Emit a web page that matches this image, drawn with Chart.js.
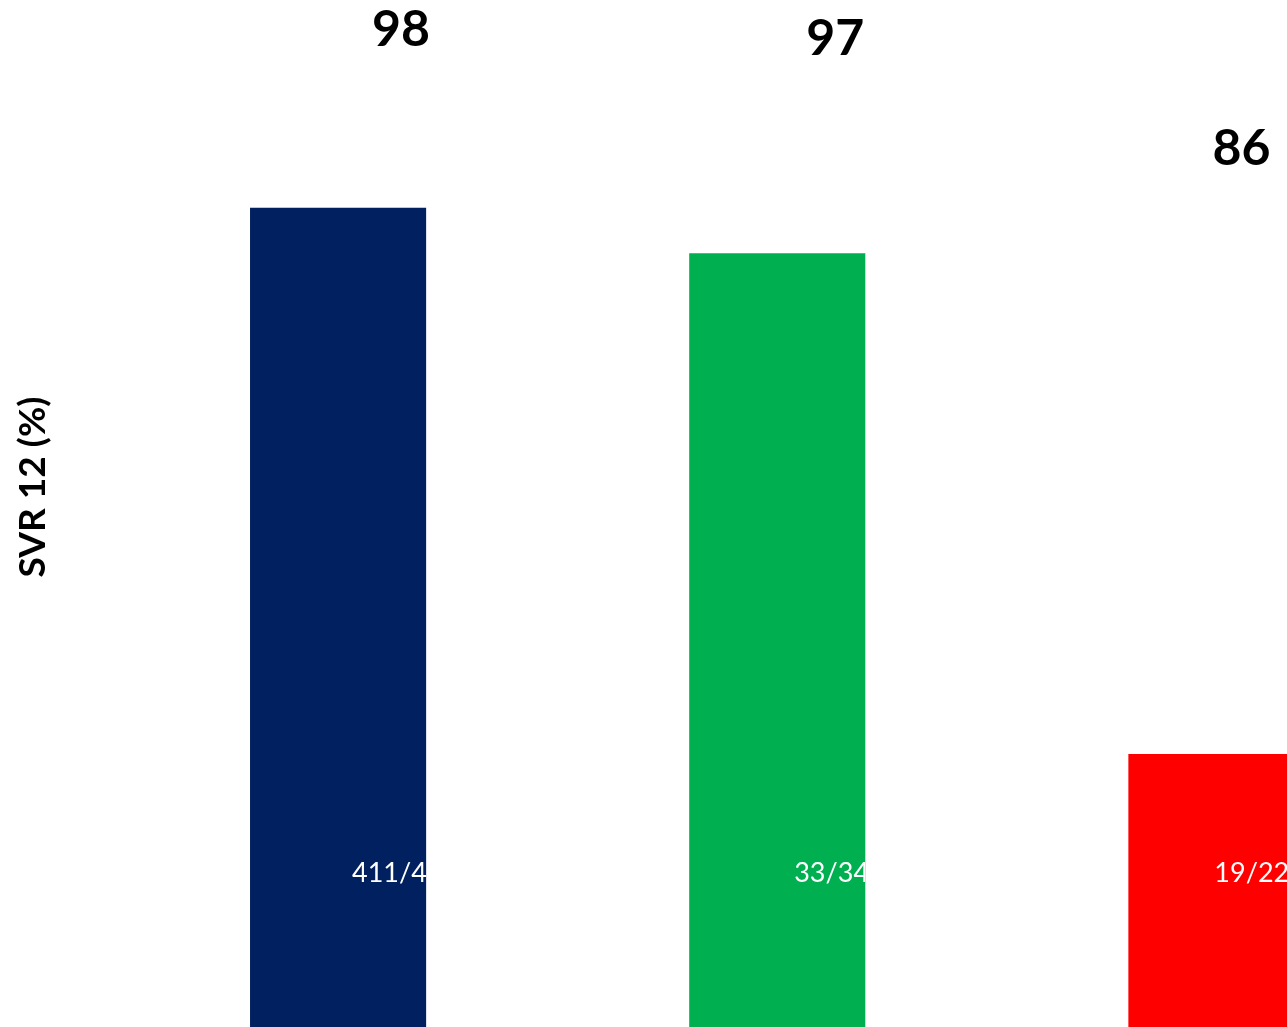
<!DOCTYPE html>
<html>
<head>
<meta charset="utf-8">
<script src="https://cdn.jsdelivr.net/npm/chart.js@4"></script>
<style>
  html, body { margin: 0; padding: 0; background: #fff; }
  #frame { position: relative; width: 1287px; height: 1027px; overflow: hidden; }
  #box { position: absolute; left: 0; top: -53px; width: 1436px; height: 1080px; }
</style>
</head>
<body>
<div id="frame"><div id="box"><canvas id="svrChart"></canvas></div></div>
<script>
// SVR12 by group

const groups = ['Group A', 'Group B', 'Group C']
const svrRates = [98, 97, 86]
const svrLabels = ['98', '97', '86']
const patientCounts = ['411/419', '33/34', '19/22']
const barColours = ['#002060', '#00B050', '#FF0000']

// value labels above the bars + n/N inside the bars (clipped to the bar)
const barText = {
  id: 'barText',
  afterDatasetsDraw(chart, args, opts) {
    const ctx = chart.ctx
    const bottom = chart.chartArea.bottom
    const bars = chart.getDatasetMeta(0).data
    bars.forEach((bar, i) => {
      ctx.save()
      ctx.fillStyle = '#000'
      ctx.font = 'bold 50px Lato'
      ctx.textAlign = 'center'
      ctx.textBaseline = 'middle'
      ctx.fillText(svrLabels[i], bar.x + opts.topDx[i], bar.y + opts.topDy[i])
      ctx.restore()

      ctx.save()
      ctx.beginPath()
      ctx.rect(bar.x - bar.width / 2, bar.y, bar.width, bottom - bar.y)
      ctx.clip()
      ctx.fillStyle = '#fff'
      ctx.font = '27px Lato'
      ctx.textAlign = 'left'
      ctx.textBaseline = 'alphabetic'
      ctx.fillText(patientCounts[i], bar.x - bar.width / 2 + opts.innerDx[i], bottom - 145)
      ctx.restore()
    })
  }
}

const ctx = document.getElementById('svrChart').getContext('2d')
const svrChart = new Chart(ctx, {
  type: 'bar',
  data: {
    labels: groups,
    datasets: [{
      label: 'SVR 12',
      data: svrRates,
      backgroundColor: barColours,
      borderWidth: 0,
      barPercentage: 0.401,
      categoryPercentage: 1
    }]
  },
  plugins: [barText],
  options: {
    responsive: true,
    maintainAspectRatio: false,
    animation: false,
    layout: { padding: 0 },
    scales: {
      x: { display: false },
      y: {
        min: 80,
        max: 103.73,
        afterFit: (scale) => { scale.width = 118.5 },
        ticks: { display: false },
        grid: { display: false },
        border: { display: false },
        title: {
          display: true,
          text: 'SVR 12 (%)',
          color: '#000',
          padding: { top: 11, bottom: 0 },
          font: { family: 'Lato', size: 37, weight: 'bold' }
        }
      }
    },
    plugins: {
      legend: { display: false },
      tooltip: { enabled: false },
      barText: {
        topDx: [63, 58, 25],
        topDy: [-178, -214, -605],
        innerDx: [102, 105, 86]
      }
    }
  }
})
</script>
</body>
</html>
